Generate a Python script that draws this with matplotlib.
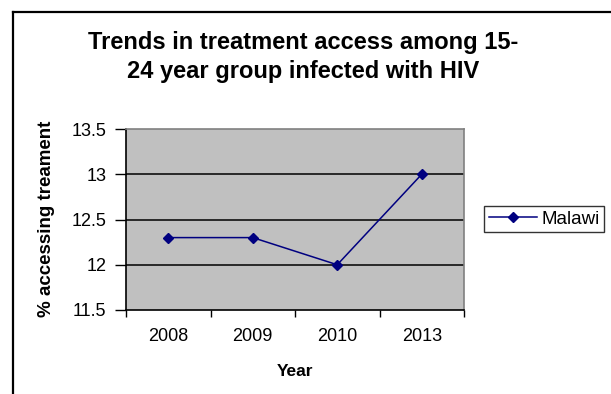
import matplotlib
matplotlib.use("Agg")
import matplotlib.pyplot as plt
from matplotlib.lines import Line2D

plt.rcParams['font.family'] = ['Liberation Sans', 'DejaVu Sans']

years = ["2008", "2009", "2010", "2013"]
malawi = [12.3, 12.3, 12.0, 13.0]
yticks = [11.5, 12, 12.5, 13, 13.5]

W, H = 611, 394
fig = plt.figure(figsize=(W / 100, H / 100), dpi=100)
fig.patch.set_facecolor("white")

# outer chart border (left and top visible)
bx, by = 13 / W, 1 - 12 / H
fig.add_artist(Line2D([bx, bx], [0, by], transform=fig.transFigure, color="black", lw=1.6))
fig.add_artist(Line2D([bx, 1.0], [by, by], transform=fig.transFigure, color="black", lw=1.6))

ax = fig.add_axes([126 / W, 1 - 310 / H, 338 / W, 181 / H])
ax.set_facecolor("#C0C0C0")

x = list(range(len(years)))
ax.plot(x, malawi, color="#000080", lw=1.1, marker="D", markersize=5.5,
        markerfacecolor="#000080", markeredgecolor="#000080", label="Malawi", zorder=3)

ax.set_xlim(-0.5, len(years) - 0.5)
ax.set_ylim(11.5, 13.5)
ax.set_yticks(yticks)
ax.set_yticklabels([f"{v:g}" for v in yticks], fontsize=13)
for v in yticks[1:-1]:
    ax.axhline(v, color="black", lw=1.1, zorder=1)

ax.set_xticks([i - 0.5 for i in range(len(years) + 1)])
ax.set_xticklabels([])
ax.set_xticks(x, minor=True)
ax.set_xticklabels(years, minor=True, fontsize=13)
ax.tick_params(axis="x", which="major", direction="out", length=5, width=1, color="black")
ax.tick_params(axis="x", which="minor", length=0, pad=13)
ax.tick_params(axis="y", direction="out", length=8, width=1, color="black", pad=6)

for s in ["top", "right"]:
    ax.spines[s].set_color("#808080")
    ax.spines[s].set_linewidth(1.2)
for s in ["left", "bottom"]:
    ax.spines[s].set_color("black")
    ax.spines[s].set_linewidth(1.2)

fig.text(295 / W, 1 - 371 / H, "Year", ha="center", va="center",
         fontsize=12.5, fontweight="bold")
fig.text(47 / W, 1 - 219 / H, "% accessing treament", ha="center", va="center",
         rotation=90, fontsize=13.5, fontweight="bold")

fig.text(303 / W, 1 - 49 / H, "Trends in treatment access among 15-", ha="center",
         va="baseline", fontsize=17, fontweight="bold")
fig.text(303 / W, 1 - 78 / H, "24 year group infected with HIV", ha="center",
         va="baseline", fontsize=17, fontweight="bold")

leg = fig.legend(loc="center", bbox_to_anchor=(544 / W, 1 - 219 / H), fontsize=13.5,
                 frameon=True, fancybox=False, edgecolor="black", handlelength=2.6,
                 borderpad=0.25, handletextpad=0.2, borderaxespad=0)
leg.get_frame().set_linewidth(1.0)

fig.savefig("out.png", dpi=100)
